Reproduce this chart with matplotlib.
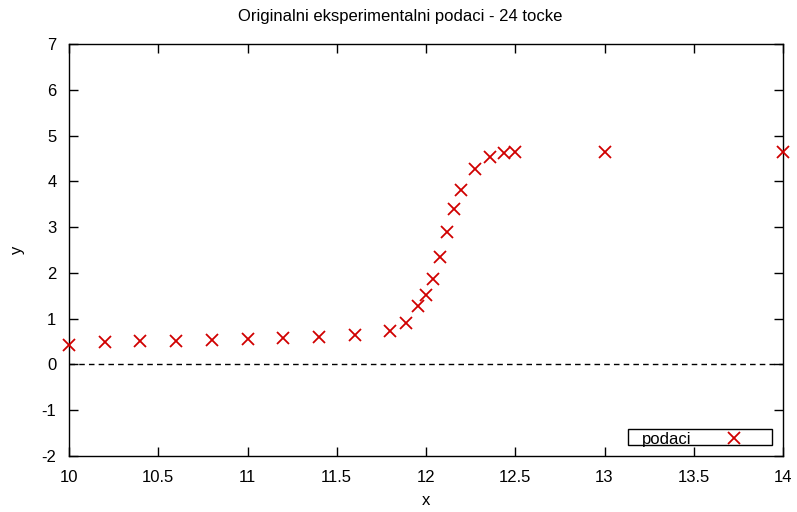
import matplotlib
matplotlib.use("Agg")
import matplotlib.pyplot as plt
from matplotlib.patches import Rectangle

plt.rcParams["font.family"] = ["Liberation Sans", "DejaVu Sans"]
plt.rcParams["axes.unicode_minus"] = False

x_values = [10.0, 10.2, 10.4, 10.6, 10.8, 11.0, 11.2, 11.4, 11.6, 11.8,
            11.886, 11.957, 11.998, 12.037, 12.076, 12.117, 12.157, 12.196,
            12.276, 12.358, 12.435, 12.497, 13.0, 14.0]
y_values = [0.42, 0.49, 0.51, 0.51, 0.53, 0.55, 0.58, 0.60, 0.64, 0.74,
            0.90, 1.28, 1.52, 1.87, 2.35, 2.89, 3.39, 3.81,
            4.26, 4.53, 4.62, 4.63, 4.64, 4.64]

x_ticks = [10, 10.5, 11, 11.5, 12, 12.5, 13, 13.5, 14]
x_tick_labels = ["10", "10.5", "11", "11.5", "12", "12.5", "13", "13.5", "14"]
y_ticks = list(range(-2, 8))

font_size = 12
WIDTH, HEIGHT = 797, 512

figure = plt.figure(figsize=(WIDTH / 100, HEIGHT / 100), dpi=100)
axis = figure.add_axes([69 / WIDTH, 1 - 456 / HEIGHT,
                        (783 - 69) / WIDTH, (456 - 44) / HEIGHT])

axis.axhline(0, color="black", linewidth=1, linestyle=(0, (4, 3)))
axis.plot(x_values, y_values, linestyle="none", marker="x",
          markersize=9, markeredgewidth=1.3, color="#d00000", label="podaci",
          clip_on=False, zorder=3)

axis.set_xlim(10, 14)
axis.set_ylim(-2, 7)
axis.set_xticks(x_ticks)
axis.set_xticklabels(x_tick_labels)
axis.set_yticks(y_ticks)
axis.tick_params(direction="in", length=6.5, width=1, top=True, right=True,
                 labelsize=font_size, colors="black")
axis.tick_params(axis="x", pad=10)
axis.tick_params(axis="y", pad=9)
for spine in axis.spines.values():
    spine.set_linewidth(1)

# gnuplot centres the title on the whole canvas, not on the plot area
figure.text(400 / WIDTH, 1 - 21 / HEIGHT,
            "Originalni eksperimentalni podaci - 24 tocke",
            fontsize=font_size, ha="center", va="baseline")
axis.set_xlabel("x", fontsize=font_size, labelpad=6)
axis.set_ylabel("y", fontsize=font_size, labelpad=12)

# key: text first, sample after, inside a plain rectangle
legend = axis.legend(loc="center left", bbox_to_anchor=(642 / WIDTH, 1 - 439.5 / HEIGHT),
                     bbox_transform=figure.transFigure,
                     fontsize=font_size, frameon=False,
                     markerfirst=False, handlelength=2.0, handletextpad=1.55,
                     borderpad=0, borderaxespad=0)
legend.legend_handles[0].set_markersize(8.5)
figure.patches.append(Rectangle((628 / WIDTH, 1 - 445 / HEIGHT),
                                (772 - 628) / WIDTH, (445 - 429) / HEIGHT,
                                transform=figure.transFigure, fill=False,
                                edgecolor="black", linewidth=1))

figure.savefig("out.png", dpi=100)
